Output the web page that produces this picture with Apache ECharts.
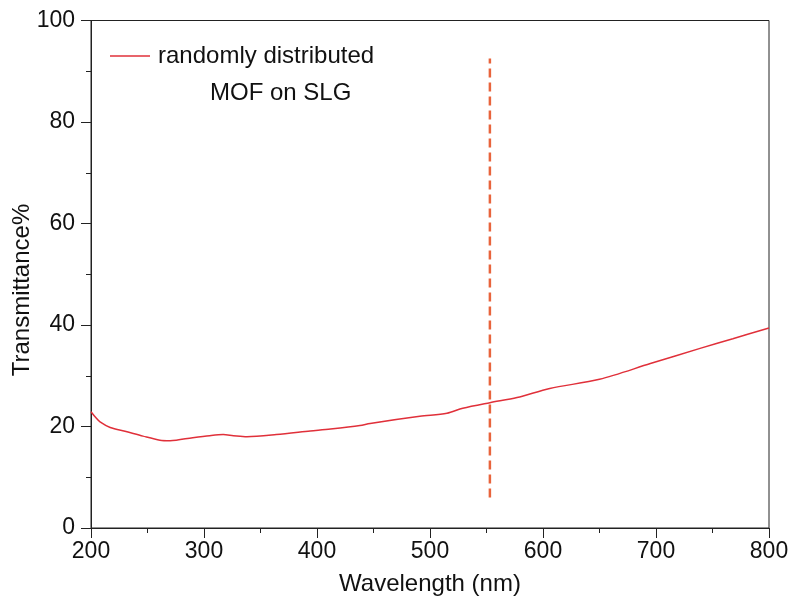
<!DOCTYPE html>
<html><head><meta charset="utf-8">
<script src="https://cdn.jsdelivr.net/npm/echarts@6/dist/echarts.min.js"></script>
<style>html,body{margin:0;padding:0;background:#fff}#c{width:796px;height:605px}</style>
</head><body><div id="c"></div>
<script>
const wavelength = [200, 204, 208, 217, 231, 246, 261, 270, 290, 305, 317, 326, 338, 364, 394, 412, 438, 447, 491, 515, 529, 553, 577, 606, 650, 695, 739, 768, 800];
const transmittance = [22.9, 21.8, 20.9, 19.8, 19.0, 18.1, 17.3, 17.2, 17.8, 18.2, 18.4, 18.2, 18.0, 18.4, 19.1, 19.5, 20.2, 20.6, 22.0, 22.6, 23.6, 24.7, 25.7, 27.5, 29.3, 32.4, 35.4, 37.3, 39.4];
const markerX = [553, 553];
const markerY = [6, 92.5];
const seriesName = 'randomly distributed';
const seriesName2 = 'MOF on SLG';
const xTitle = 'Wavelength (nm)';
const yTitle = 'Transmittance%';

const chart = echarts.init(document.getElementById('c'), null, {renderer: 'canvas'});
const font = 'Liberation Sans, Arial, sans-serif';
const fs = 23;
chart.setOption({
  animation: false,
  backgroundColor: '#fff',
  grid: {left: 91, right: 27, top: 20.5, bottom: 77, show: true, borderColor: '#222', borderWidth: 1},
  legend: {
    data: [seriesName], left: 110, top: 44, padding: 0, itemWidth: 40, itemHeight: 1.5,
    icon: 'path://M0,0 L40,0 L40,1.5 L0,1.5 Z',
    textStyle: {fontFamily: font, fontSize: 24, color: '#111', padding: [0, 0, 0, 3]}
  },
  graphic: [
    {type: 'text', left: 210, top: 81, style: {text: seriesName2, font: '24px ' + font, fill: '#111'}},
    {type: 'text', x: 22, y: 290, rotation: Math.PI / 2,
     style: {text: yTitle, font: '24px ' + font, fill: '#111', align: 'center', verticalAlign: 'middle'}}
  ],
  xAxis: {
    type: 'value', min: 200, max: 800, interval: 100,
    name: xTitle, nameLocation: 'middle', nameGap: 44,
    nameTextStyle: {fontFamily: font, fontSize: 24, color: '#111'},
    axisLine: {lineStyle: {color: '#222', width: 1}},
    axisTick: {length: 10, lineStyle: {color: '#222'}},
    minorTick: {show: true, splitNumber: 2, length: 5, lineStyle: {color: '#222'}},
    axisLabel: {fontFamily: font, fontSize: fs, color: '#111', margin: 12},
    splitLine: {show: false}
  },
  yAxis: {
    type: 'value', min: 0, max: 100, interval: 20,
    axisLine: {show: true, lineStyle: {color: '#222', width: 1}},
    axisTick: {show: true, length: 10, lineStyle: {color: '#222'}},
    minorTick: {show: true, splitNumber: 2, length: 5, lineStyle: {color: '#222'}},
    axisLabel: {fontFamily: font, fontSize: fs, color: '#111', margin: 16},
    splitLine: {show: false}
  },
  series: [
    {name: seriesName, type: 'line', showSymbol: false, smooth: 0.3, color: '#e0303a',
     lineStyle: {width: 1.5, color: '#e0303a'},
     data: wavelength.map((w, i) => [w, transmittance[i]])},
    {name: 'marker', type: 'line', showSymbol: false, color: '#e8643c',
     lineStyle: {width: 2.5, type: [9, 5], color: '#e8643c'},
     data: markerX.map((w, i) => [w, markerY[i]])}
  ]
});
</script></body></html>
